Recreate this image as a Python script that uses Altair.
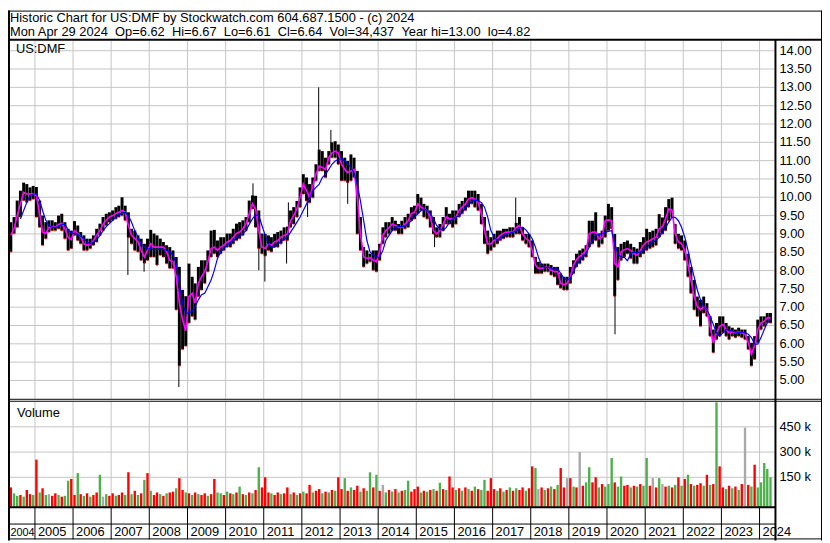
import altair as alt
import pandas as pd

FONT = "Liberation Sans"
FS = 13

title1 = "Historic Chart for US:DMF by Stockwatch.com 604.687.1500 - (c) 2024"
title2 = ("Mon Apr 29 2024\u00a0\u00a0Op=6.62\u00a0\u00a0Hi=6.67\u00a0\u00a0Lo=6.61\u00a0\u00a0"
          "Cl=6.64\u00a0\u00a0Vol=34,437\u00a0\u00a0Year hi=13.00\u00a0\u00a0lo=4.82")
symbol = "US:DMF"

# monthly periods May 2004 .. Apr 2024
months = [f"{y}-{m:02d}-15" for y in range(2004, 2025) for m in range(1, 13)
          if (2004, 5) <= (y, m) <= (2024, 4)]

price_hi = [
    9.32, 9.46, 9.91, 10.18, 10.40, 10.36, 10.27, 10.31,
    10.28, 9.91, 9.50, 9.32, 9.37, 9.37, 9.32, 9.50, 9.55, 9.32, 9.14, 9.09,
    9.35, 9.23, 9.05, 8.96, 8.87, 8.87, 8.96, 9.14, 9.28, 9.46, 9.55, 9.59,
    9.64, 9.73, 9.77, 10.00, 9.77, 9.59, 9.14, 9.09, 8.96, 8.87, 8.73, 8.87,
    9.11, 9.01, 8.96, 8.87, 8.78, 8.69, 8.64, 8.55, 8.37, 8.10, 7.47, 7.30,
    8.19, 7.83, 7.65, 8.10, 8.28, 8.28, 8.55, 9.09, 9.11, 8.82, 8.91, 8.91,
    9.01, 9.01, 9.14, 9.28, 9.32, 9.37, 9.46, 9.91, 10.05, 10.04, 9.64, 9.01,
    9.00, 8.96, 8.91, 9.00, 9.05, 9.09, 9.18, 9.20, 9.64, 9.73, 9.90, 10.27,
    10.63, 10.54, 10.36, 10.54, 10.90, 11.30, 11.26, 11.08, 11.26, 11.50, 11.53, 11.44,
    11.26, 11.08, 10.99, 11.17, 11.08, 10.72, 9.46, 8.64, 8.55, 8.46, 8.55, 8.55,
    8.73, 9.18, 9.32, 9.32, 9.46, 9.36, 9.27, 9.36, 9.46, 9.55, 9.73, 9.77,
    10.09, 9.99, 9.82, 9.77, 9.64, 9.46, 9.18, 9.27, 9.46, 9.73, 9.55, 9.64,
    9.64, 9.82, 9.90, 9.99, 10.18, 10.18, 10.18, 10.09, 9.82, 9.46, 9.09, 8.91,
    9.00, 9.09, 9.09, 9.14, 9.14, 9.18, 9.18, 9.30, 9.46, 9.18, 9.00, 9.00,
    8.82, 8.37, 8.24, 8.19, 8.19, 8.19, 8.15, 8.10, 8.10, 7.92, 7.83, 7.83,
    8.10, 8.28, 8.46, 8.55, 8.60, 8.69, 9.36, 9.36, 9.59, 9.00, 9.09, 9.50,
    9.82, 9.73, 9.00, 8.64, 8.73, 8.78, 8.82, 8.73, 8.64, 8.60, 8.78, 8.91,
    9.14, 9.05, 9.09, 9.14, 9.54, 9.45, 9.73, 9.95, 9.99, 9.27, 9.00, 8.96,
    8.82, 8.46, 8.10, 7.74, 7.29, 7.20, 7.29, 7.11, 6.75, 6.39, 6.57, 6.75,
    6.75, 6.57, 6.48, 6.44, 6.39, 6.44, 6.39, 6.39, 6.21, 6.03, 6.21, 6.66,
    6.75, 6.75, 6.84, 6.84,
]
price_lo = [
    8.51, 9.01, 9.18, 9.46, 9.91, 9.86, 9.91, 9.95,
    9.46, 9.18, 8.69, 8.87, 9.05, 9.09, 9.09, 9.14, 9.09, 8.87, 8.55, 8.60,
    8.96, 8.82, 8.73, 8.55, 8.55, 8.60, 8.69, 8.78, 8.96, 9.09, 9.23, 9.32,
    9.37, 9.41, 9.46, 9.50, 9.37, 8.90, 8.73, 8.55, 8.51, 8.28, 8.20, 8.28,
    8.37, 8.37, 8.15, 8.42, 8.37, 8.19, 8.06, 8.06, 6.93, 5.40, 5.85, 5.94,
    6.57, 6.75, 6.66, 7.29, 7.47, 7.65, 7.97, 8.37, 8.46, 8.37, 8.46, 8.55,
    8.64, 8.64, 8.73, 8.82, 8.87, 8.96, 9.09, 9.32, 9.68, 9.18, 8.60, 8.46,
    8.40, 8.55, 8.51, 8.64, 8.64, 8.73, 8.82, 8.82, 9.18, 9.27, 9.46, 9.73,
    10.09, 9.90, 9.85, 9.99, 10.45, 10.72, 10.72, 10.54, 10.90, 11.08, 11.08, 10.90,
    10.45, 10.45, 10.40, 10.45, 10.54, 9.00, 8.55, 8.10, 8.19, 8.24, 8.01, 7.97,
    8.28, 8.73, 8.91, 9.00, 9.09, 9.09, 9.00, 9.00, 9.14, 9.18, 9.36, 9.41,
    9.55, 9.64, 9.46, 9.41, 9.18, 9.00, 8.91, 8.91, 9.09, 9.27, 9.27, 9.18,
    9.27, 9.46, 9.55, 9.64, 9.73, 9.82, 9.73, 9.64, 9.27, 8.73, 8.46, 8.55,
    8.64, 8.73, 8.82, 8.87, 8.91, 8.91, 8.91, 9.00, 9.00, 8.82, 8.73, 8.64,
    8.37, 7.92, 7.92, 7.92, 7.97, 7.97, 7.88, 7.83, 7.61, 7.52, 7.47, 7.47,
    7.65, 7.92, 8.10, 8.19, 8.28, 8.37, 8.64, 8.73, 8.82, 8.64, 8.73, 8.91,
    9.09, 9.14, 7.30, 7.74, 8.28, 8.37, 8.46, 8.33, 8.19, 8.19, 8.37, 8.46,
    8.55, 8.60, 8.64, 8.69, 8.91, 9.00, 9.09, 9.36, 9.45, 8.73, 8.60, 8.55,
    8.28, 7.83, 7.38, 6.93, 6.75, 6.48, 6.84, 6.75, 6.21, 5.76, 6.12, 6.21,
    6.30, 6.21, 6.12, 6.21, 6.17, 6.21, 6.17, 6.12, 5.85, 5.40, 5.58, 6.03,
    6.39, 6.48, 6.57, 6.57,
]
ma_fast = [
    8.96, 9.14, 9.50, 9.82, 10.13, 10.09, 10.09, 10.10,
    10.04, 9.55, 9.05, 9.01, 9.18, 9.20, 9.18, 9.26, 9.29, 9.14, 8.90, 8.84,
    9.09, 9.01, 8.92, 8.73, 8.69, 8.72, 8.82, 8.96, 9.09, 9.26, 9.38, 9.46,
    9.50, 9.56, 9.59, 9.64, 9.59, 9.23, 8.96, 8.87, 8.78, 8.55, 8.37, 8.55,
    8.73, 8.64, 8.64, 8.64, 8.64, 8.51, 8.28, 8.24, 7.83, 7.11, 6.66, 6.35,
    7.29, 7.38, 7.11, 7.65, 7.83, 7.97, 8.24, 8.60, 8.64, 8.55, 8.64, 8.69,
    8.78, 8.82, 8.91, 9.01, 9.05, 9.14, 9.28, 9.55, 9.82, 9.68, 9.09, 8.64,
    8.60, 8.73, 8.69, 8.78, 8.82, 8.91, 8.96, 9.00, 9.36, 9.50, 9.68, 9.99,
    10.36, 10.18, 9.99, 10.31, 10.63, 10.85, 10.81, 10.76, 11.08, 11.21, 11.26, 11.21,
    10.90, 10.76, 10.67, 10.72, 10.76, 9.99, 9.00, 8.37, 8.33, 8.36, 8.28, 8.24,
    8.51, 8.96, 9.09, 9.17, 9.27, 9.23, 9.18, 9.18, 9.27, 9.36, 9.55, 9.59,
    9.82, 9.73, 9.68, 9.64, 9.46, 9.09, 9.00, 9.09, 9.26, 9.46, 9.41, 9.41,
    9.46, 9.64, 9.73, 9.82, 9.95, 9.99, 9.95, 9.86, 9.55, 9.09, 8.73, 8.73,
    8.82, 8.87, 8.96, 9.02, 9.05, 9.05, 9.05, 9.18, 9.23, 9.00, 8.87, 8.82,
    8.55, 8.15, 8.06, 8.06, 8.09, 8.09, 8.01, 7.97, 7.97, 7.65, 7.61, 7.65,
    7.83, 8.15, 8.30, 8.39, 8.46, 8.54, 9.00, 9.05, 9.05, 8.87, 8.91, 9.36,
    9.38, 9.36, 8.19, 8.10, 8.51, 8.57, 8.60, 8.55, 8.46, 8.42, 8.55, 8.69,
    8.78, 8.82, 8.87, 8.91, 9.14, 9.20, 9.41, 9.68, 9.65, 9.00, 8.78, 8.73,
    8.55, 8.15, 7.74, 7.29, 7.02, 6.93, 7.02, 6.93, 6.48, 6.03, 6.30, 6.48,
    6.53, 6.39, 6.30, 6.33, 6.30, 6.33, 6.30, 6.26, 6.03, 5.72, 5.94, 6.39,
    6.57, 6.62, 6.71, 6.71,
]
ma_slow = [
    None, None, None, 9.41, 9.64, 9.86, 10.04, 10.09,
    10.09, 9.91, 9.64, 9.37, 9.23, 9.18, 9.18, 9.20, 9.26, 9.26, 9.11, 9.02,
    9.01, 8.99, 8.93, 8.87, 8.78, 8.73, 8.78, 8.84, 8.96, 9.08, 9.20, 9.28,
    9.37, 9.46, 9.52, 9.56, 9.59, 9.50, 9.32, 9.09, 8.91, 8.73, 8.64, 8.60,
    8.59, 8.57, 8.57, 8.59, 8.57, 8.55, 8.51, 8.42, 8.19, 7.65, 7.11, 6.84,
    6.84, 6.89, 7.02, 7.20, 7.34, 7.38, 7.56, 7.74, 8.01, 8.33, 8.51, 8.60,
    8.69, 8.75, 8.82, 8.90, 8.93, 9.01, 9.09, 9.26, 9.41, 9.52, 9.50, 9.23,
    8.96, 8.73, 8.64, 8.64, 8.73, 8.78, 8.87, 8.91, 9.05, 9.18, 9.32, 9.46,
    9.64, 9.82, 9.99, 10.18, 10.27, 10.36, 10.54, 10.63, 10.76, 10.90, 10.99, 11.03,
    11.06, 10.99, 10.90, 10.81, 10.67, 10.36, 9.90, 9.36, 8.82, 8.51, 8.42, 8.36,
    8.37, 8.55, 8.82, 8.96, 9.09, 9.18, 9.20, 9.20, 9.22, 9.27, 9.36, 9.46,
    9.55, 9.64, 9.68, 9.64, 9.55, 9.41, 9.23, 9.14, 9.09, 9.18, 9.32, 9.41,
    9.46, 9.50, 9.59, 9.71, 9.82, 9.89, 9.92, 9.90, 9.86, 9.73, 9.46, 9.09,
    8.91, 8.82, 8.87, 8.96, 9.00, 9.02, 9.05, 9.08, 9.17, 9.18, 9.11, 9.00,
    8.87, 8.64, 8.37, 8.15, 8.08, 8.09, 8.06, 8.03, 8.06, 7.92, 7.79, 7.74,
    7.79, 7.97, 8.15, 8.28, 8.37, 8.46, 8.64, 8.82, 8.96, 9.00, 9.00, 9.05,
    9.07, 9.09, 8.73, 8.46, 8.36, 8.36, 8.27, 8.46, 8.51, 8.48, 8.51, 8.55,
    8.63, 8.72, 8.78, 8.82, 8.91, 9.05, 9.17, 9.32, 9.45, 9.45, 9.36, 9.18,
    8.91, 8.55, 8.19, 7.83, 7.47, 7.20, 7.02, 6.93, 6.75, 6.53, 6.30, 6.21,
    6.30, 6.39, 6.37, 6.35, 6.32, 6.32, 6.32, 6.30, 6.26, 6.17, 5.99, 5.99,
    6.17, 6.39, 6.57, 6.66,
]

# single-day spikes (wicks) beyond the monthly body
spike_dates = ["2007-06-10", "2007-11-12", "2008-10-10", "2010-09-20", "2010-11-15",
               "2011-01-12", "2011-08-08", "2011-08-25", "2012-02-25", "2012-06-10",
               "2012-10-05", "2013-03-15", "2015-06-25", "2017-08-10", "2020-03-18"]
spike_top = [9.10, 8.50, 6.50, 10.38, 9.00, 8.80, 9.00, 9.86, 10.20, 13.00,
             11.84, 10.60, 9.10, 9.99, 8.00]
spike_bot = [7.88, 7.97, 4.82, 9.90, 8.01, 7.70, 8.19, 9.10, 9.46, 11.00,
             11.30, 9.82, 8.64, 9.20, 6.26]

# monthly volume (thousands) and colour code: r = down, g = up, y = unchanged
volume_k = [
    90, 55, 40, 45, 35, 75, 50, 45,
    255, 60, 85, 45, 50, 40, 55, 45, 35, 40, 130, 140,
    45, 175, 50, 40, 55, 35, 45, 60, 165, 35, 50, 40,
    55, 40, 45, 60, 45, 180, 50, 70, 45, 55, 135, 175,
    70, 45, 60, 50, 40, 55, 60, 65, 85, 145, 75, 60,
    55, 45, 60, 50, 45, 55, 40, 50, 140, 60, 55, 45,
    65, 55, 50, 60, 95, 50, 45, 60, 55, 75, 210, 90,
    150, 60, 55, 45, 60, 50, 55, 90, 50, 60, 45, 55,
    65, 55, 105, 60, 70, 80, 55, 65, 60, 75, 70, 150,
    80, 145, 70, 90, 75, 100, 65, 85, 70, 180, 90, 165,
    70, 105, 60, 75, 65, 80, 60, 70, 75, 130, 65, 80,
    95, 60, 70, 65, 75, 80, 70, 118, 80, 75, 155, 90,
    75, 85, 70, 90, 80, 70, 95, 80, 75, 135, 70, 145,
    80, 70, 85, 65, 75, 90, 70, 85, 75, 90, 70, 85,
    215, 205, 80, 90, 75, 85, 95, 80, 105, 205, 90, 145,
    145, 95, 90, 300, 100, 120, 210, 120, 150, 90, 110, 95,
    110, 265, 120, 95, 155, 100, 105, 90, 100, 95, 110, 100,
    265, 100, 145, 90, 145, 110, 95, 100, 90, 105, 150, 100,
    140, 165, 110, 100, 105, 115, 100, 165, 105, 110, 595, 215,
    90, 80, 100, 85, 95, 75, 110, 445, 105, 95, 225, 90,
    120, 235, 200, 150,
]
volume_dir = (
    "rggrgrrg"
    "rgrgyrrgrggr"
    "rgrgrgrrgygr"
    "rgrrgrgrgrgr"
    "grrgrgrrgrrg"
    "rgrgrrgrrggr"
    "grgrgrgrgrgr"
    "rrgrrgrrgrgr"
    "grrgrrgrgrgr"
    "rgrgrrgrggrg"
    "rygrgrgrggrr"
    "rgrgrgrgrgrr"
    "grgrgrgrggrr"
    "rgrgrgrgrrgr"
    "rgyrgrgrgrry"
    "rgryrggrrgrg"
    "ggrggrrgrgrg"
    "gryrgyrgrgrg"
    "rgrgrrgrgrgr"
    "rgrgrgryrgrg"
    "gggg"
)

price_levels = [5.0 + 0.5 * i for i in range(19)]
price_labels = [f"{v:.2f}" for v in price_levels]
vol_levels = [150000, 300000, 450000]
vol_labels = ["150 k", "300 k", "450 k"]
years = list(range(2004, 2025))
year_labels = [str(y) for y in years]

# ---------------------------------------------------------------- tables
price = pd.DataFrame({"date": months, "hi": price_hi, "lo": price_lo,
                      "fast": ma_fast, "slow": ma_slow})
spikes = pd.DataFrame({"date": spike_dates, "top": spike_top, "bot": spike_bot})
colmap = {"r": "#ff0000", "g": "#4cb04c", "y": "#a8a8a8"}
vol = pd.DataFrame({"date": months, "vol": [v * 1000 for v in volume_k],
                    "c": [colmap[ch] for ch in volume_dir]})
plev = pd.DataFrame({"lev": price_levels, "lab": price_labels})
vlev = pd.DataFrame({"lev": vol_levels, "lab": vol_labels})
yr = pd.DataFrame({"d": [f"{y}-01-01" for y in years], "lab": year_labels})
yr_in = yr[yr["lab"] != "2004"]
yr_first = pd.DataFrame({"lab": ["2004"]})
one = pd.DataFrame({"k": [0]})

# ---------------------------------------------------------------- scales
XS = alt.Scale(domain=[alt.DateTime(year=2004, month=4, date=18, utc=True),
                       alt.DateTime(year=2024, month=5, date=23, utc=True)],
               range=[0, 774])
PY = alt.Scale(domain=[4.5, 14.5], range=[392, 22], zero=False, nice=False)
VY = alt.Scale(domain=[0, 600000], range=[496.8, 394.8], zero=False, nice=False)

GRID = "#c4c4c4"
TOP = 29.5  # price panel top border (chart px)


def X(field):
    return alt.X(field, type="temporal", scale=XS, axis=None)


def hline(y, x1, x2, w=1.0, c="black"):
    return alt.Chart(one).mark_rule(color=c, strokeWidth=w).encode(
        x=alt.value(x1), x2=alt.value(x2), y=alt.value(y))


def vline(x, y1, y2, w=1.0, c="black"):
    return alt.Chart(one).mark_rule(color=c, strokeWidth=w).encode(
        x=alt.value(x), y=alt.value(y1), y2=alt.value(y2))


def txt(df, **kw):
    base = dict(font=FONT, fontSize=FS, color="black")
    base.update(kw)
    return alt.Chart(df).mark_text(**base)


layers = []

# grid
layers.append(alt.Chart(plev).mark_rule(color=GRID, strokeWidth=1).encode(
    y=alt.Y("lev:Q", scale=PY, axis=None), x=alt.value(0), x2=alt.value(774)))
layers.append(alt.Chart(vlev).mark_rule(color=GRID, strokeWidth=1).encode(
    y=alt.Y("lev:Q", scale=VY, axis=None), x=alt.value(0), x2=alt.value(774)))
layers.append(alt.Chart(yr_in).mark_rule(color=GRID, strokeWidth=1).encode(
    x=X("d"), y=alt.value(TOP + 1), y2=alt.value(392)))
layers.append(alt.Chart(yr_in).mark_rule(color=GRID, strokeWidth=1).encode(
    x=X("d"), y=alt.value(395), y2=alt.value(501)))

# price bars
layers.append(alt.Chart(price).mark_rule(color="black", strokeWidth=3.0).encode(
    x=X("date"), y=alt.Y("hi:Q", scale=PY, axis=None), y2="lo:Q"))
layers.append(alt.Chart(spikes).mark_rule(color="black", strokeWidth=1).encode(
    x=X("date"), y=alt.Y("top:Q", scale=PY, axis=None), y2="bot:Q"))
layers.append(alt.Chart(price).mark_tick(color="#ff0000", thickness=1.5, size=2,
                                         orient="horizontal").encode(
    x=X("date"), y=alt.Y("lo:Q", scale=PY, axis=None)))
layers.append(alt.Chart(price).mark_line(color="#ff00ff", strokeWidth=1.7).encode(
    x=X("date"), y=alt.Y("fast:Q", scale=PY, axis=None)))
layers.append(alt.Chart(price).mark_line(color="#0000ff", strokeWidth=1.2).encode(
    x=X("date"), y=alt.Y("slow:Q", scale=PY, axis=None)))

# volume bars
layers.append(alt.Chart(vol).mark_rule(strokeWidth=2.4).encode(
    x=X("date"), y=alt.Y("vol:Q", scale=VY, axis=None), y2=alt.value(501),
    color=alt.Color("c:N", scale=None)))

# texts
layers.append(txt(pd.DataFrame({"t": [title1]}), align="left", baseline="alphabetic").encode(
    x=alt.value(2), y=alt.value(11.6), text="t:N"))
layers.append(txt(pd.DataFrame({"t": [title2]}), align="left", baseline="alphabetic").encode(
    x=alt.value(2), y=alt.value(26.0), text="t:N"))
layers.append(txt(pd.DataFrame({"t": [symbol]}), align="left", baseline="alphabetic").encode(
    x=alt.value(8), y=alt.value(42.5), text="t:N"))
layers.append(txt(pd.DataFrame({"t": ["Volume"]}), align="left", baseline="alphabetic").encode(
    x=alt.value(9), y=alt.value(410.5), text="t:N"))
layers.append(txt(plev, align="left", baseline="middle").encode(
    x=alt.value(779), y=alt.Y("lev:Q", scale=PY, axis=None), text="lab:N"))
layers.append(txt(vlev, align="left", baseline="middle").encode(
    x=alt.value(779), y=alt.Y("lev:Q", scale=VY, axis=None), text="lab:N"))
layers.append(txt(yr_in, align="left", baseline="alphabetic", dx=3).encode(
    x=X("d"), y=alt.value(531), text="lab:N"))
layers.append(txt(yr_first, align="left", baseline="alphabetic", fontSize=11).encode(
    x=alt.value(2.5), y=alt.value(530.5), text="lab:N"))

# frame
layers.append(alt.Chart(yr_in).mark_rule(color="black", strokeWidth=1).encode(
    x=X("d"), y=alt.value(501), y2=alt.value(534)))
layers += [
    hline(0.5, 0, 822),
    hline(TOP, 0, 822, 2),
    hline(392.5, 0, 822),
    hline(394.5, 0, 822),
    hline(501.5, 0, 775, 2),
    hline(518.5, 0, 775),
    hline(533.5, 0, 822),
    vline(1, 0, 535, 2),
    vline(775, TOP, 535, 2),
    vline(821.5, 0, 535),
]

chart = alt.layer(*layers).resolve_scale(y="independent").properties(
    width=822, height=535, autosize=alt.AutoSizeParams(type="none"),
    padding=0, background="white"
).configure_view(stroke=None)

chart.save("out.html", embed_options={"renderer": "svg", "actions": False})
